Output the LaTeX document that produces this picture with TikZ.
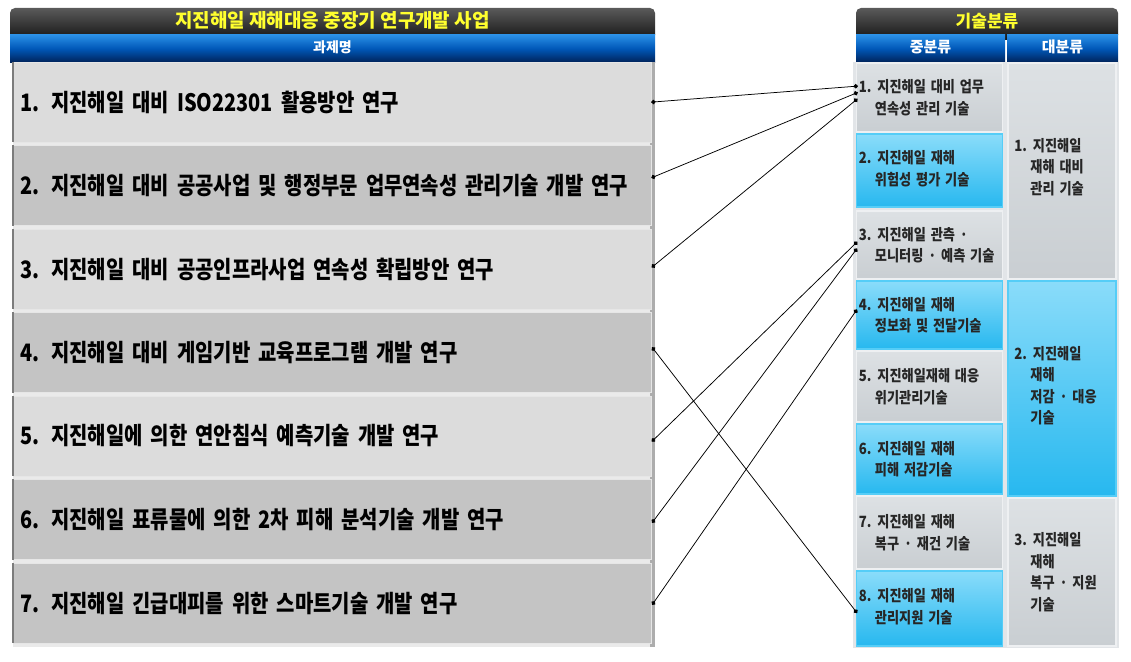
\documentclass[tikz,border=0pt]{standalone}
\usepackage{fontspec}
\setmainfont{Noto Sans CJK KR}
\newfontfamily\rowfont[FakeStretch=0.83, WordSpace=1.8]{Noto Sans CJK KR}
\newfontfamily\boxfont[FakeStretch=0.85, WordSpace=1.6]{Noto Sans CJK KR}
\usetikzlibrary{arrows.meta, positioning, calc}

\definecolor{barhi}{HTML}{5A5A5A}
\definecolor{barlo}{HTML}{141414}
\definecolor{bluehi}{HTML}{2A8FE6}
\definecolor{bluemid}{HTML}{0058B8}
\definecolor{bluelo}{HTML}{00245C}
\definecolor{titleyellow}{HTML}{FFFF2E}
\definecolor{rowlight}{HTML}{DCDCDC}
\definecolor{rowdark}{HTML}{C4C4C4}
\definecolor{rowline}{HTML}{E6E6E6}
\definecolor{rowgap}{HTML}{EAEAEA}
\definecolor{rowedge}{HTML}{7C7C7C}
\definecolor{rowside}{HTML}{ADADAD}
\definecolor{panelbg}{HTML}{E2E5E8}
\definecolor{grayhi}{HTML}{DDE1E4}
\definecolor{graylo}{HTML}{C9CED2}
\definecolor{grayln}{HTML}{EEF0F2}
\definecolor{cyanhi}{HTML}{8ADCFA}
\definecolor{cyanlo}{HTML}{27B8EF}
\definecolor{cyanln}{HTML}{55CDF7}

\newcommand{\ind}{\hspace*{16pt}}

\tikzset{
  blackbar/.style={top color=barhi, bottom color=barlo, rounded corners=5pt,
    inner sep=0pt, minimum height=32pt, text height=12pt, text depth=4pt,
    text=titleyellow, font=\bfseries\fontsize{19}{21}\selectfont},
  bluebar/.style={top color=bluehi, bottom color=bluelo, middle color=bluemid,
    inner sep=0pt, minimum height=27pt, text height=11pt, text depth=3pt,
    text=white, font=\bfseries\fontsize{15}{17}\selectfont},
  rowbox/.style={fill=#1, draw=rowline, line width=0.8pt, minimum width=638pt,
    minimum height=80pt, inner sep=0pt, text width=624pt, align=left,
    font=\rowfont\bfseries\fontsize{24}{28}\selectfont},
  rowedgeline/.style={draw=rowedge, line width=2pt},
  graybox/.style={top color=grayhi, bottom color=graylo, draw=grayln, line width=1.5pt, inner sep=0pt},
  cyanbox/.style={top color=cyanhi, bottom color=cyanlo, draw=cyanln, line width=1.5pt, inner sep=0pt},
  boxtext/.style={anchor=west, inner sep=0pt, align=left,
    font=\boxfont\bfseries\fontsize{15.5}{21.5}\selectfont, text=black!85},
  link/.style={line width=0.75pt, {Circle[length=4.4pt]}-{Circle[length=4.4pt]},
    shorten <=-2.2pt, shorten >=-2.2pt}
}

\begin{document}
\begin{tikzpicture}[x=1pt, y=-1pt]
  \useasboundingbox (0,0) rectangle (1131,661);

  % Headers
  \node[blackbar, minimum width=645pt] (title) at (332.5,24) {지진해일 재해대응 중장기 연구개발 사업};
  \node[bluebar, minimum width=645pt, font=\bfseries\fontsize{14}{16}\selectfont] (subject) at (332.5,48.5) {과제명};
  \node[blackbar, minimum width=262pt, font=\bfseries\fontsize{17}{19}\selectfont] (cattitle) at (987,24) {기술분류};
  \node[bluebar, minimum width=149pt] (midhead) at (930.5,48.5) {중분류};
  \node[bluebar, minimum width=111pt] (majhead) at (1062.5,48.5) {대분류};

  % Project rows
  \fill[rowgap] (13,62) rectangle (651,647);
  \fill[rowside] (650,62) rectangle (655,647);
  \foreach \i/\rc/\dy/\txt in {
    1/rowlight/0/{1. 지진해일 대비 ISO22301 활용방안 연구},
    2/rowdark/-8.5/{2. 지진해일 대비 공공사업 및 행정부문 업무연속성 관리기술 개발 연구},
    3/rowlight/-3/{3. 지진해일 대비 공공인프라사업 연속성 확립방안 연구},
    4/rowdark/-3.5/{4. 지진해일 대비 게임기반 교육프로그램 개발 연구},
    5/rowlight/4/{5. 지진해일에 의한 연안침식 예측기술 개발 연구},
    6/rowdark/1.5/{6. 지진해일 표류물에 의한 2차 피해 분석기술 개발 연구},
    7/rowdark/0/{7. 지진해일 긴급대피를 위한 스마트기술 개발 연구}
  } {
    \node[rowbox=\rc] (row\i) at (332, {102+(\i-1)*83.5}) {\txt};
    \draw[rowedgeline] (row\i.north west) -- (row\i.south west);
    \coordinate (l\i) at ($(row\i.east)+(2,\dy)$);
  }

  % Classification panel
  \fill[panelbg] (853,62) rectangle (1119,648);
  \node[graybox, minimum width=146pt, minimum height=69pt] (mid1) at (929.5,97.5) {};
  \node[cyanbox, minimum width=146pt, minimum height=73pt] (mid2) at (929.5,170.5) {};
  \node[graybox, minimum width=146pt, minimum height=68pt] (mid3) at (929.5,245) {};
  \node[cyanbox, minimum width=146pt, minimum height=68pt] (mid4) at (929.5,315) {};
  \node[graybox, minimum width=146pt, minimum height=71pt] (mid5) at (929.5,386.5) {};
  \node[cyanbox, minimum width=146pt, minimum height=70pt] (mid6) at (929.5,459) {};
  \node[graybox, minimum width=146pt, minimum height=73pt] (mid7) at (929.5,532.5) {};
  \node[cyanbox, minimum width=146pt, minimum height=75pt] (mid8) at (929.5,608.5) {};
  \node[graybox, minimum width=108pt, minimum height=216pt] (maj1) at (1062,171) {};
  \node[cyanbox, minimum width=108pt, minimum height=215pt] (maj2) at (1062,388.5) {};
  \node[graybox, minimum width=108pt, minimum height=148pt] (maj3) at (1062,572) {};

  % Texts of the classes
  \node[boxtext] (midt1) at ($(mid1.west)+(3,0)$) {1. 지진해일 대비 업무\\\ind 연속성 관리 기술};
  \node[boxtext] (midt2) at ($(mid2.west)+(3,-2)$) {2. 지진해일 재해\\\ind 위험성 평가 기술};
  \node[boxtext] (midt3) at ($(mid3.west)+(3,0)$) {3. 지진해일 관측 ·\\\ind 모니터링 · 예측 기술};
  \node[boxtext] (midt4) at ($(mid4.west)+(3,0)$) {4. 지진해일 재해\\\ind 정보화 및 전달기술};
  \node[boxtext] (midt5) at ($(mid5.west)+(3,0)$) {5. 지진해일재해 대응\\\ind 위기관리기술};
  \node[boxtext] (midt6) at ($(mid6.west)+(3,0)$) {6. 지진해일 재해\\\ind 피해 저감기술};
  \node[boxtext] (midt7) at ($(mid7.west)+(3,0)$) {7. 지진해일 재해\\\ind 복구 · 재건 기술};
  \node[boxtext] (midt8) at ($(mid8.west)+(3,-2)$) {8. 지진해일 재해\\\ind 관리지원 기술};
  \node[boxtext] (majt1) at ($(maj1.west)+(7,-4)$) {1. 지진해일\\\ind 재해 대비\\\ind 관리 기술};
  \node[boxtext] (majt2) at ($(maj2.west)+(7,-3)$) {2. 지진해일\\\ind 재해\\\ind 저감 · 대응\\\ind 기술};
  \node[boxtext] (majt3) at ($(maj3.west)+(7,0)$) {3. 지진해일\\\ind 재해\\\ind 복구 · 지원\\\ind 기술};

  % Connector ends on the classification side
  \coordinate (d1a) at ($(mid1.north west)+(0,24)$);
  \coordinate (d1b) at ($(mid1.north west)+(0,31)$);
  \coordinate (d1c) at ($(mid1.north west)+(0,38)$);
  \coordinate (d3a) at ($(mid3.north west)+(0,33)$);
  \coordinate (d3b) at ($(mid3.north west)+(0,40)$);
  \coordinate (d4) at ($(mid4.north west)+(0,31)$);
  \coordinate (d8) at ($(mid8.north west)+(0,41)$);

  % Links
  \draw[link] (l1) -- (d1a);
  \draw[link] (l2) -- (d1b);
  \draw[link] (l3) -- (d1c);
  \draw[link] (l4) -- (d8);
  \draw[link] (l5) -- (d3a);
  \draw[link] (l6) -- (d3b);
  \draw[link] (l7) -- (d4);
\end{tikzpicture}
\end{document}
